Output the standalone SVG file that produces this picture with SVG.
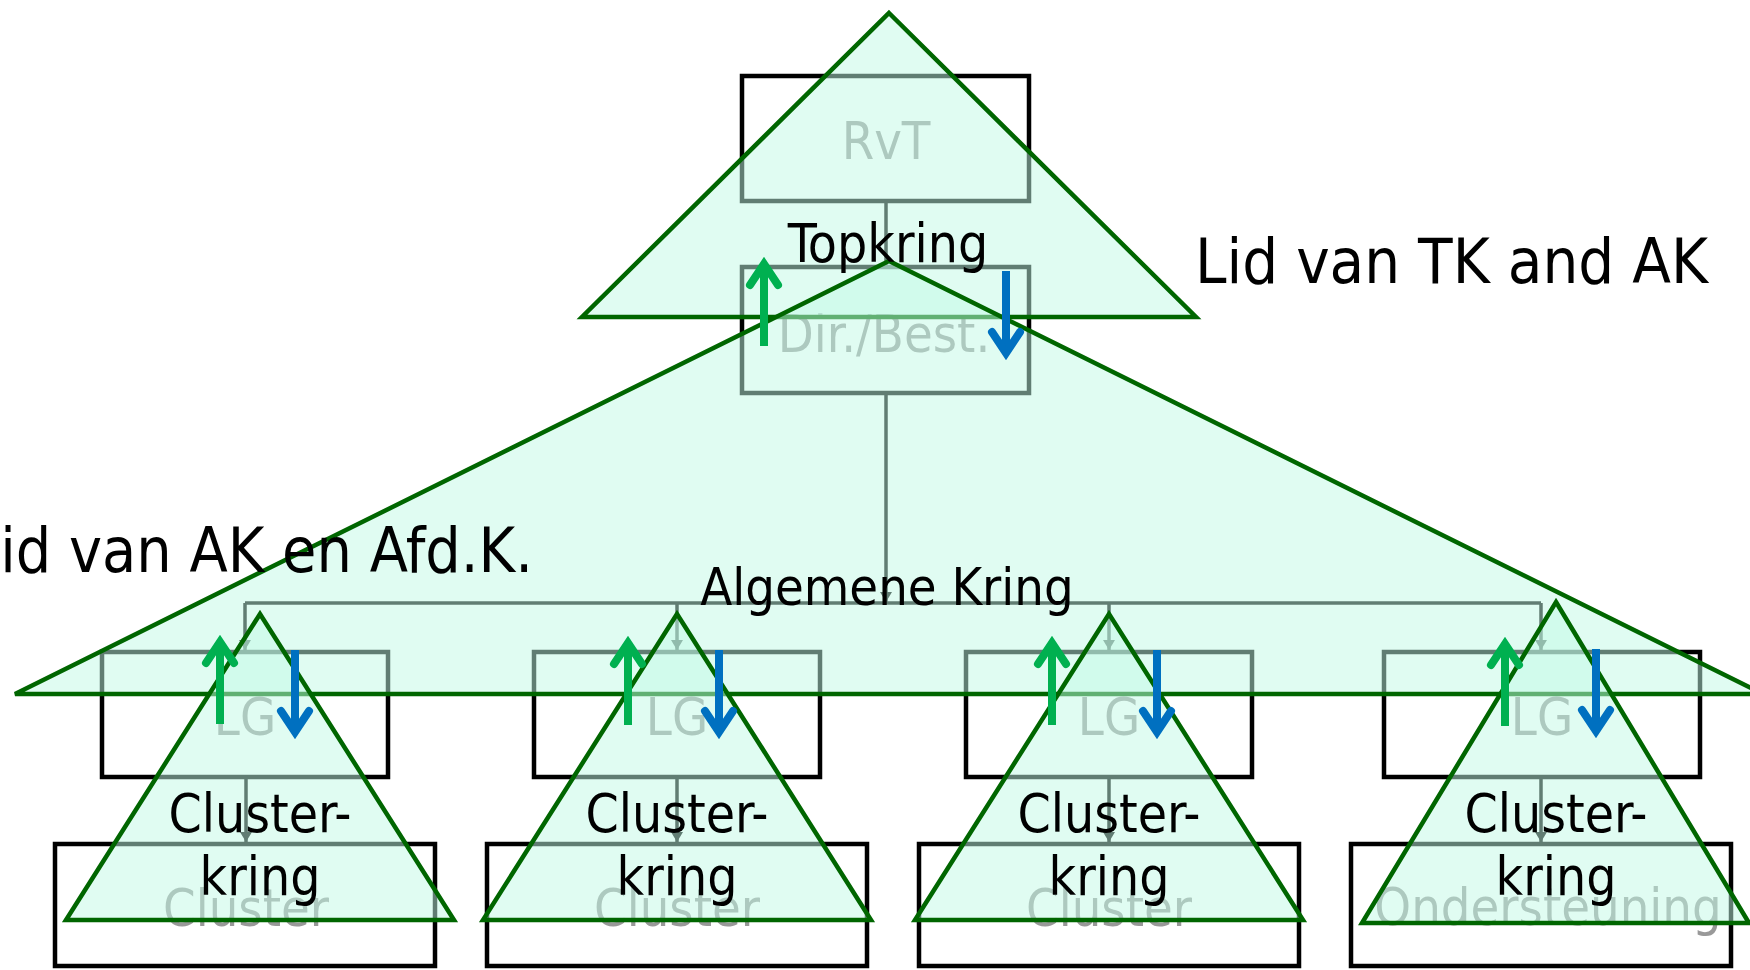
<svg xmlns="http://www.w3.org/2000/svg" xmlns:xlink="http://www.w3.org/1999/xlink" width="1750" height="970" viewBox="0 0 1750 970">
<style>
  .box { fill: none; stroke: #000000; stroke-width: 4.5; }
  .lbl { font-family: "DejaVu Sans Condensed", "DejaVu Sans", sans-serif; font-size: 52px; fill: #999999; text-anchor: middle; }
  .blk { font-family: "DejaVu Sans Condensed", "DejaVu Sans", sans-serif; font-size: 53px; fill: #000000; text-anchor: middle; }
  .big { font-family: "DejaVu Sans Condensed", "DejaVu Sans", sans-serif; font-size: 63px; fill: #000000; }
  .conn { fill: none; stroke: #000000; stroke-width: 3.5; }
  .tri { fill: #c2fae6; fill-opacity: 0.5; stroke: #006600; stroke-width: 4.5; stroke-linejoin: miter; }
  .green { stroke: #00b050; }
  .blue { stroke: #0070c0; }
</style>
<defs>
  <marker id="ah" markerUnits="userSpaceOnUse" markerWidth="12" markerHeight="12" refX="10" refY="6" orient="auto">
    <path d="M0,0 L10,6 L0,12 z" fill="#000000"/>
  </marker>
  <g id="uparrow" fill="none" stroke-width="8">
    <path d="M0,89 L0,6"/>
    <path d="M-14,28 L0,7 L14,28" stroke-linecap="round" stroke-linejoin="miter"/>
  </g>
</defs>
<rect width="1750" height="970" fill="#ffffff"/>

<!-- boxes -->
<g id="rvt"><rect class="box" x="742" y="76" width="287" height="125"/><text class="lbl" x="886" y="159">RvT</text></g>
<g id="dirbest"><rect class="box" x="742" y="267" width="287" height="126"/><text class="lbl" x="884" y="352">Dir./Best.</text></g>
<g id="lg1"><rect class="box" x="102" y="652" width="286" height="125"/><text class="lbl" x="245" y="735">LG</text></g>
<g id="lg2"><rect class="box" x="534" y="652" width="286" height="125"/><text class="lbl" x="677" y="735">LG</text></g>
<g id="lg3"><rect class="box" x="966" y="652" width="286" height="125"/><text class="lbl" x="1109" y="735">LG</text></g>
<g id="lg4"><rect class="box" x="1384" y="652" width="316" height="125"/><text class="lbl" x="1542" y="735">LG</text></g>
<g id="cluster1"><rect class="box" x="55" y="844" width="380" height="122"/><text class="lbl" x="246" y="926">Cluster</text></g>
<g id="cluster2"><rect class="box" x="487" y="844" width="380" height="122"/><text class="lbl" x="677" y="926">Cluster</text></g>
<g id="cluster3"><rect class="box" x="919" y="844" width="380" height="122"/><text class="lbl" x="1109" y="926">Cluster</text></g>
<g id="ondersteuning"><rect class="box" x="1351" y="844" width="380" height="122"/><text class="lbl" x="1548" y="925">Ondersteuning</text></g>

<!-- connectors -->
<g id="connectors">
  <line class="conn" x1="886" y1="203" x2="886" y2="265"/>
  <line class="conn" x1="886" y1="395" x2="886" y2="602" marker-end="url(#ah)"/>
  <line class="conn" x1="245" y1="603" x2="1541" y2="603"/>
  <path class="conn" d="M245,603 L245,650" marker-end="url(#ah)"/>
  <path class="conn" d="M677,603 L677,650" marker-end="url(#ah)"/>
  <path class="conn" d="M1109,603 L1109,650" marker-end="url(#ah)"/>
  <path class="conn" d="M1541,603 L1541,650" marker-end="url(#ah)"/>
  <path class="conn" d="M246,779 L246,842" marker-end="url(#ah)"/>
  <path class="conn" d="M677,779 L677,842" marker-end="url(#ah)"/>
  <path class="conn" d="M1109,779 L1109,842" marker-end="url(#ah)"/>
  <path class="conn" d="M1541,779 L1541,842" marker-end="url(#ah)"/>
</g>

<!-- circles (triangles) -->
<g id="topkring"><polygon class="tri" points="889,13 1196,317 582,317"/></g>
<g id="algemenekring"><polygon class="tri" points="889,261 1763,694 15,694"/></g>
<g id="clusterkring1"><polygon class="tri" points="260,614 454,920 66,920"/></g>
<g id="clusterkring2"><polygon class="tri" points="677,614 871,920 483,920"/></g>
<g id="clusterkring3"><polygon class="tri" points="1109,614 1303,920 915,920"/></g>
<g id="clusterkring4"><polygon class="tri" points="1556,602 1749,923 1362,923"/></g>

<!-- circle labels -->
<g id="labels">
  <text class="blk" x="888" y="262">Topkring</text>
  <text class="blk" x="887" y="605" style="font-size:52px">Algemene Kring</text>
  <text class="blk" x="260" y="832">Cluster-</text><text class="blk" x="260" y="895">kring</text>
  <text class="blk" x="677" y="832">Cluster-</text><text class="blk" x="677" y="895">kring</text>
  <text class="blk" x="1109" y="832">Cluster-</text><text class="blk" x="1109" y="895">kring</text>
  <text class="blk" x="1556" y="832">Cluster-</text><text class="blk" x="1556" y="895">kring</text>
</g>

<!-- linking arrows -->
<g id="arrows">
  <use xlink:href="#uparrow" class="green" transform="translate(764,257)"/>
  <use xlink:href="#uparrow" class="blue" transform="translate(1006,360) scale(1,-1)"/>
  <use xlink:href="#uparrow" class="green" transform="translate(220,635)"/>
  <use xlink:href="#uparrow" class="blue" transform="translate(295,739) scale(1,-1)"/>
  <use xlink:href="#uparrow" class="green" transform="translate(628,636)"/>
  <use xlink:href="#uparrow" class="blue" transform="translate(719,739) scale(1,-1)"/>
  <use xlink:href="#uparrow" class="green" transform="translate(1052,636)"/>
  <use xlink:href="#uparrow" class="blue" transform="translate(1157,739) scale(1,-1)"/>
  <use xlink:href="#uparrow" class="green" transform="translate(1505,637)"/>
  <use xlink:href="#uparrow" class="blue" transform="translate(1596,738) scale(1,-1)"/>
</g>

<!-- annotations -->
<g id="annot-tk"><text class="big" x="1195" y="283" textLength="513" lengthAdjust="spacingAndGlyphs">Lid van TK and AK</text></g>
<g id="annot-ak"><text class="big" x="-31" y="572" textLength="564" lengthAdjust="spacingAndGlyphs">Lid van AK en Afd.K.</text></g>
</svg>
